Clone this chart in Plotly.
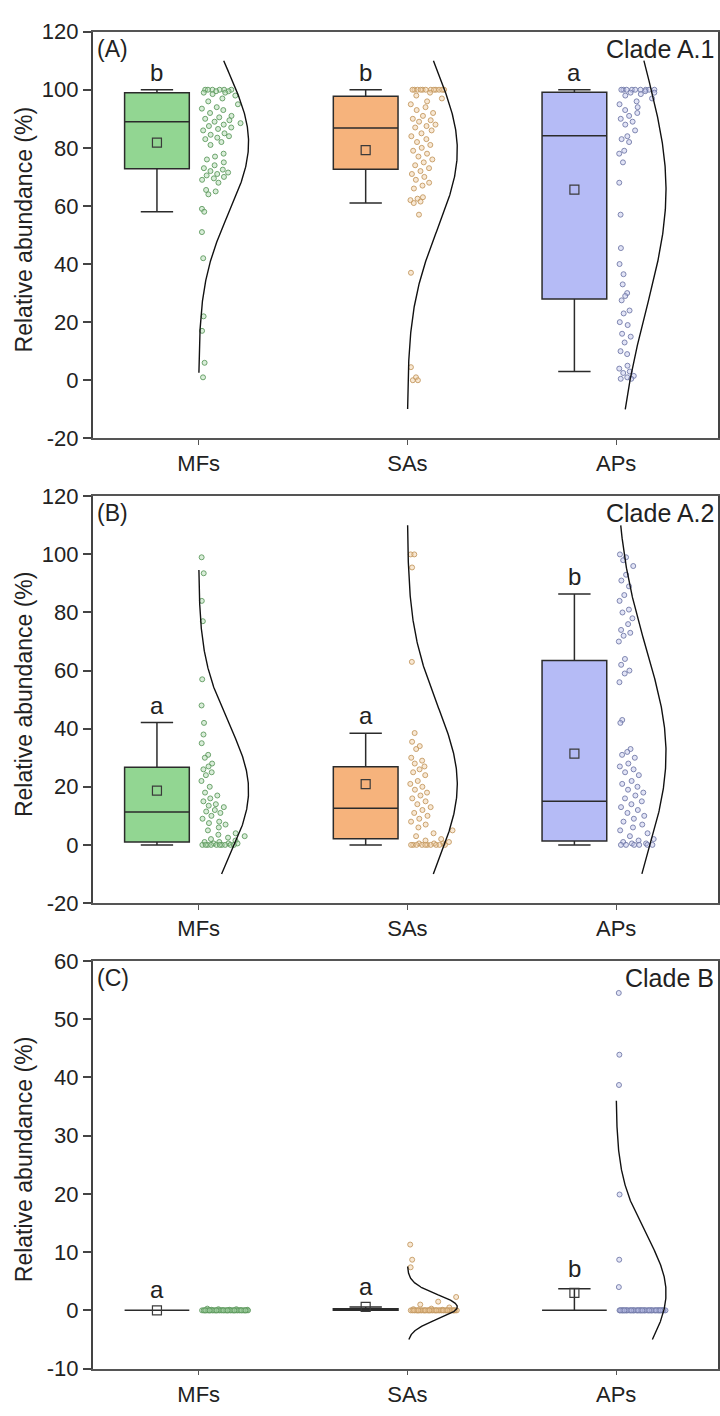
import numpy as np
import plotly.graph_objects as go

categories = ["MFs", "SAs", "APs"]
cat_pos = [1, 2, 3]

# ---- Panel A (Clade A.1) box statistics ----
A_lower = [58, 61, 3]
A_q1 = [72.8, 72.6, 28]
A_median = [89, 86.8, 84.2]
A_q3 = [99, 97.8, 99.1]
A_upper = [100, 100, 100]
A_mean = [81.8, 79.2, 65.6]
A_sd = [24, 27, 41]
A_letters = ["b", "b", "a"]

# ---- Panel B (Clade A.2) ----
B_lower = [0, 0, 0]
B_q1 = [1, 2.1, 1.3]
B_median = [11.3, 12.6, 15]
B_q3 = [26.7, 26.9, 63.5]
B_upper = [42.1, 38.4, 86.4]
B_mean = [18.7, 20.9, 31.4]
B_sd = [23, 27, 36]
B_letters = ["a", "a", "b"]

# ---- Panel C (Clade B) ----
C_lower = [0, 0, 0]
C_q1 = [0, 0, 0]
C_median = [0, 0, 0]
C_q3 = [0, 0.3, 0]
C_upper = [0, 0.6, 3.7]
C_mean = [0, 0.6, 3.0]
C_sd = [0, 2.1, 10]
C_letters = ["a", "a", "b"]

# ---- y tick labels ----
AB_ticks = [-20, 0, 20, 40, 60, 80, 100, 120]
AB_ticklabels = ["-20", "0", "20", "40", "60", "80", "100", "120"]
C_ticks = [-10, 0, 10, 20, 30, 40, 50, 60]
C_ticklabels = ["-10", "0", "10", "20", "30", "40", "50", "60"]

# ---- individual sample values ----
A_MFs = [100, 100, 100, 100, 100, 100, 99.5, 99.5, 99, 99, 98.5, 98, 97, 96, 95, 94, 93.5, 93, 92, 91,
         90.5, 90, 89.5, 89, 88.5, 88, 87.5, 87, 86.5, 86, 85, 84.5, 84, 83.5, 83, 82, 81, 78, 77, 76,
         75, 74, 73, 72.5, 72, 71.5, 71, 70.5, 70, 69.5, 69, 68, 65.5, 65, 64, 59, 58, 51, 42, 22, 17, 6, 1]
A_SAs = [100, 100, 100, 100, 100, 100, 100, 100, 100, 100, 100, 100, 99, 98, 97, 96, 95, 94, 93, 92,
         91, 90, 89.5, 89, 88, 87.5, 87, 86, 85, 84, 83, 82, 81, 80, 79, 78, 77, 76, 75, 74, 73, 72,
         71, 70, 69, 68, 67, 66, 63, 62.5, 62, 61.5, 61, 57, 37, 4.5, 1, 0, 0]
A_APs = [100, 100, 100, 100, 100, 100, 100, 100, 100, 99.5, 99, 99, 98.5, 98, 97, 96, 95, 94, 93, 92,
         91, 90, 89, 88, 86, 84, 83, 82, 79, 78, 75, 68, 57, 45.5, 40, 36.5, 33, 30, 29, 27.5, 24, 23,
         20, 19, 16, 15, 13, 10, 9, 5, 4, 3, 2.5, 1.5, 1, 0.5, 0.5]
B_MFs = [99, 93.5, 84, 77, 57, 48, 42, 38, 35, 31, 30, 28, 27, 26, 25, 24, 22, 20, 18, 17, 16, 15, 14,
         13.5, 13, 12, 11.5, 11, 10, 9, 8, 7.5, 7, 6, 5, 4, 3.5, 3, 2.5, 2, 1.5, 1, 1, 0.5, 0.5, 0.5,
         0, 0, 0, 0, 0, 0, 0, 0, 0, 0]
B_SAs = [100, 100, 95.5, 63, 38.5, 35.5, 34, 33, 30, 29, 28, 27, 26, 25, 24, 22, 21, 20, 19, 18, 17,
         16, 15, 14, 13, 12, 11, 10, 9, 8, 7, 6, 5, 4, 3, 2, 1.5, 1, 0.5, 0.5, 0.5, 0, 0, 0, 0, 0, 0,
         0, 0, 0, 0]
B_APs = [100, 99, 98, 96, 93, 91, 89, 86, 84, 81, 80, 78, 76, 74, 73, 72, 70, 64, 62, 60, 59, 56, 43,
         42, 33, 32, 31, 30, 28, 27, 26, 25, 24, 22, 21, 20, 19, 18, 17, 16, 15, 14, 13, 12, 11, 10, 9,
         8, 7, 6, 5, 4, 3, 2, 1.5, 1, 0.5, 0.5, 0, 0, 0, 0, 0, 0]
C_MFs = [0.3, 0.2, 0.2, 0.1, 0.1, 0.1, 0.05, 0.05] + [0] * 40
C_SAs = [11.3, 8.7, 7.4, 2.3, 1.5, 1, 0.5, 0.3, 0.2, 0.1] + [0] * 40
C_APs = [54.5, 43.9, 38.7, 19.9, 8.7, 4.0] + [0] * 50

# ---- styles ----
FONT = "Liberation Sans, Arial, sans-serif"
box_fill = ["#92d692", "#f6b37c", "#b5bbf6"]
pt_edge = ["#5f9a5f", "#c49a62", "#737ba8"]
pt_fill = ["rgba(170,215,170,0.45)", "rgba(240,205,160,0.45)", "rgba(190,195,235,0.45)"]
LINE = "#2b2b2b"

panels = [
    dict(lower=A_lower, q1=A_q1, med=A_median, q3=A_q3, upper=A_upper, mean=A_mean, sd=A_sd,
         letters=A_letters, pts=[A_MFs, A_SAs, A_APs], yr=[-20, 120], tv=AB_ticks, tt=AB_ticklabels,
         clip=[-10, 110], tag="(A)", clade="Clade A.1", dom=[1 - 434 / 1416, 1 - 20 / 1416], lshift=2),
    dict(lower=B_lower, q1=B_q1, med=B_median, q3=B_q3, upper=B_upper, mean=B_mean, sd=B_sd,
         letters=B_letters, pts=[B_MFs, B_SAs, B_APs], yr=[-20, 120], tv=AB_ticks, tt=AB_ticklabels,
         clip=[-10, 110], tag="(B)", clade="Clade A.2", dom=[1 - 907 / 1416, 1 - 493 / 1416], lshift=2),
    dict(lower=C_lower, q1=C_q1, med=C_median, q3=C_q3, upper=C_upper, mean=C_mean, sd=C_sd,
         letters=C_letters, pts=[C_MFs, C_SAs, C_APs], yr=[-10, 60], tv=C_ticks, tt=C_ticklabels,
         clip=[-5, 60], tag="(C)", clade="Clade B", dom=[1 - 1381 / 1416, 1 - 966 / 1416], lshift=5),
]

fig = go.Figure()
BOX_OFF = -0.2
BOX_W = 0.31
CURVE_W = 0.239
annotations = []

for pi, p in enumerate(panels):
    xa = "x" if pi == 0 else f"x{pi + 1}"
    ya = "y" if pi == 0 else f"y{pi + 1}"
    span = p["yr"][1] - p["yr"][0]
    for ci in range(3):
        xc = cat_pos[ci] + BOX_OFF
        fig.add_trace(go.Box(
            x=[xc], q1=[p["q1"][ci]], median=[p["med"][ci]], q3=[p["q3"][ci]],
            lowerfence=[p["lower"][ci]], upperfence=[p["upper"][ci]],
            width=BOX_W, whiskerwidth=0.5, fillcolor=box_fill[ci],
            line=dict(color=LINE, width=1.5), boxpoints=False,
            xaxis=xa, yaxis=ya, showlegend=False, hoverinfo="skip"))
        # mean marker
        fig.add_trace(go.Scatter(
            x=[xc], y=[p["mean"][ci]], mode="markers",
            marker=dict(symbol="square-open", size=9, color="#3a3a3a", line=dict(width=1.2)),
            xaxis=xa, yaxis=ya, showlegend=False, hoverinfo="skip"))
        # jittered points (horizontal spread follows local point density)
        vals = np.array(p["pts"][ci], dtype=float)
        win = span * 0.04
        counts = np.array([np.sum(np.abs(vals - v) <= win) for v in vals], dtype=float)
        dn = counts / counts.max()
        u = (np.arange(len(vals)) * 0.6180339887 + 0.13) % 1.0
        xs = cat_pos[ci] + 0.012 + u * 0.225 * dn
        fig.add_trace(go.Scatter(
            x=xs, y=vals, mode="markers",
            marker=dict(symbol="circle", size=5, color=pt_fill[ci],
                        line=dict(color=pt_edge[ci], width=0.9)),
            xaxis=xa, yaxis=ya, showlegend=False, hoverinfo="skip"))
        # normal distribution curve
        m, s = p["mean"][ci], p["sd"][ci]
        if s > 0:
            lo = max(p["clip"][0], m - 3.3 * s)
            hi = min(p["clip"][1], m + 3.3 * s)
            ys = np.linspace(lo, hi, 300)
            xs_c = cat_pos[ci] + CURVE_W * np.exp(-0.5 * ((ys - m) / s) ** 2)
            fig.add_trace(go.Scatter(
                x=xs_c, y=ys, mode="lines", line=dict(color="#111111", width=1.4),
                xaxis=xa, yaxis=ya, showlegend=False, hoverinfo="skip"))
        # significance letter
        annotations.append(dict(
            x=xc, y=p["upper"][ci], xref=xa, yref=ya, text=p["letters"][ci],
            showarrow=False, yanchor="bottom", yshift=p["lshift"],
            font=dict(family=FONT, size=24, color="#222")))
    # panel tag and clade label
    annotations.append(dict(x=0.503, y=p["yr"][1], xref=xa, yref=ya, text=p["tag"],
                            showarrow=False, xanchor="left", yanchor="top", yshift=-2,
                            font=dict(family=FONT, size=23, color="#222")))
    annotations.append(dict(x=3.477, y=p["yr"][1], xref=xa, yref=ya, text=p["clade"],
                            showarrow=False, xanchor="right", yanchor="top", yshift=-1,
                            font=dict(family=FONT, size=25, color="#222")))
    # y-axis title
    annotations.append(dict(x=24 / 720, y=(p["dom"][0] + p["dom"][1]) / 2 + 0.004, xref="paper",
                            yref="paper", text="Relative abundance (%)", textangle=-90,
                            showarrow=False, xanchor="center", yanchor="middle",
                            font=dict(family=FONT, size=23, color="#222")))

    axkey = "xaxis" if pi == 0 else f"xaxis{pi + 1}"
    aykey = "yaxis" if pi == 0 else f"yaxis{pi + 1}"
    fig.layout[axkey] = dict(
        domain=[93 / 720, 719 / 720], range=[0.493, 3.488], anchor=ya,
        tickvals=cat_pos, ticktext=categories, ticks="outside", ticklen=5, tickwidth=1,
        tickcolor="#555", showline=True, linecolor="#555", linewidth=1.5, mirror=True,
        showgrid=False, zeroline=False,
        tickfont=dict(family=FONT, size=22, color="#222"))
    fig.layout[aykey] = dict(
        domain=p["dom"], range=p["yr"], anchor=xa, tickvals=p["tv"], ticktext=p["tt"],
        ticks="outside", ticklen=8, tickwidth=1.5, tickcolor="#444",
        showline=True, linecolor="#444", linewidth=1.8, mirror=True,
        showgrid=False, zeroline=False,
        tickfont=dict(family=FONT, size=22, color="#222"))

fig.update_layout(
    width=720, height=1416, margin=dict(l=0, r=0, t=0, b=0),
    paper_bgcolor="white", plot_bgcolor="white", annotations=annotations,
    showlegend=False)

fig.write_html("out.html")
